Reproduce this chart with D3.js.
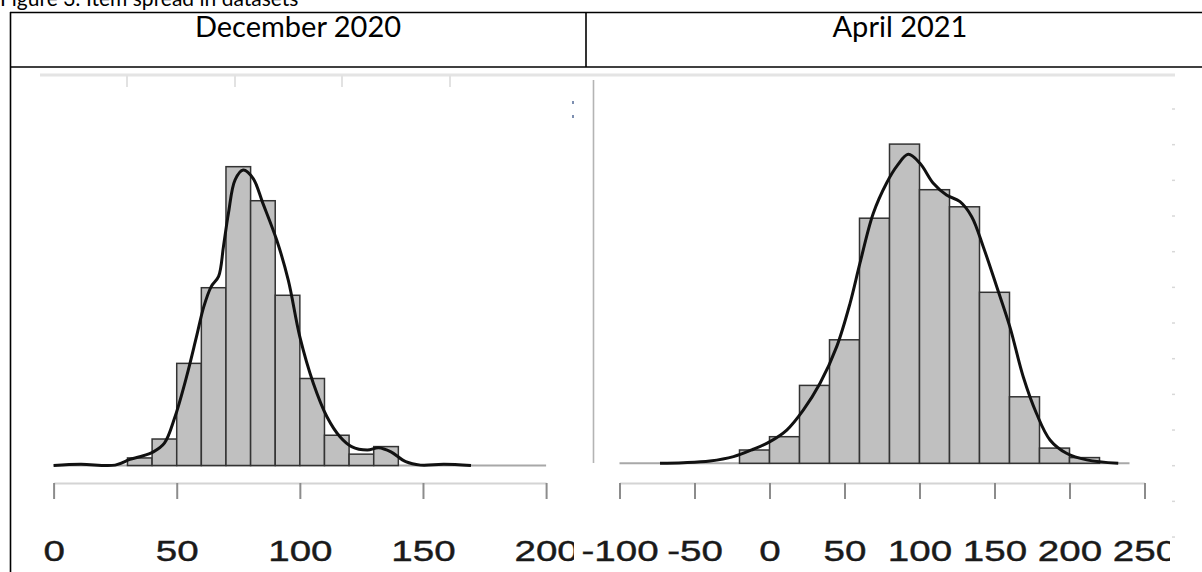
<!DOCTYPE html>
<html lang="en">
<head>
<meta charset="UTF-8">
<title>Figure 3: Item spread in datasets</title>
<script src="https://d3js.org/d3.v7.min.js"></script>
<style>
  body { margin: 0; background: #fff; overflow: hidden; }
  .doc-text { font-family: Lato, "Open Sans", sans-serif; font-size: 29px; fill: #000; }
  .caption { font-size: 21px; }
  .rule { stroke: #000; stroke-width: 1.6px; }
  .bar { fill: #c0c0c0; stroke: #333; stroke-width: 1.5px; }
  .density { fill: none; stroke: #111; stroke-width: 3px; stroke-linejoin: round; }
  .baseline { stroke: #a8a8a8; stroke-width: 2px; }
  .x-axis path.domain { stroke: #d4d4d4; stroke-width: 2px; }
  .x-axis .tick line { stroke: #8c8c8c; stroke-width: 2px; }
  .x-axis .tick text { font-family: "Liberation Sans", Arial, sans-serif; font-size: 29px; fill: #1a1a1a; stroke: #1a1a1a; stroke-width: 0.4px; }
  .frame { stroke: #e4e4e4; stroke-width: 3px; }
</style>
</head>
<body>
<svg id="figure" width="1202" height="572"></svg>
<script>
// column headers of the table
const periods = ["December 2020", "April 2021"];

// December 2020: histogram with bins of 10
const decEdges = [30, 40, 50, 60, 70, 80, 90, 100, 110, 120, 130, 140];
const decCounts = [2, 7, 27, 47, 79, 70, 45, 23, 8, 3, 5];
const decDensity = [
  [0, 0], [11, 0.3], [25, 0.1], [31, 1.6], [35, 2.3], [40.5, 3.6], [45, 5.9],
  [49.3, 12.9], [54, 23.5], [58, 34], [61, 42], [64, 47.3], [67, 50], [69, 58],
  [71, 66.7], [73.7, 75.5], [77, 78.1], [81, 75.9], [85, 69.3], [90.6, 59.6],
  [95.3, 49], [100, 34], [105.5, 21.7], [111, 12.9], [116.3, 7.6], [121, 5],
  [127.4, 4.1], [132, 4.7], [137, 3.6], [143, 1], [149, 0.1], [158.5, 0.3], [169.5, 0]
];
const decTicks = [0, 50, 100, 150, 200];

// April 2021: histogram with bins of 20
const aprEdges = [-20, 0, 20, 40, 60, 80, 100, 120, 140, 160, 180, 200, 220];
const aprCounts = [7, 14, 41, 65, 129, 168, 144, 135, 90, 35, 8, 3];
const aprDensity = [
  [-73, 0], [-57.5, 0.3], [-39.7, 1.2], [-24, 3.5], [-10.8, 7.4], [0.3, 11.4],
  [11.5, 17.5], [22.5, 28], [33.7, 42.1], [44.8, 61.4], [53.7, 84.2], [60.3, 105.3],
  [69.2, 131.6], [78, 147.4], [85, 156.5], [92.5, 162.6], [100.3, 157.9],
  [109.2, 147.4], [118, 141.2], [127, 137.7], [134.8, 129.8], [142.5, 114],
  [151.5, 92.9], [160.3, 71.7], [169.2, 45.4], [178, 26.2], [187, 12.3],
  [198, 5.3], [211.5, 1.8], [232.5, 0]
];
const aprTicks = [-100, -50, 0, 50, 100, 150, 200, 250];

const svg = d3.select("#figure");

// caption (partly scrolled off the top) and table rules
svg.append("text").attr("class", "doc-text caption")
  .attr("x", 0).attr("y", 6)
  .text("Figure 3: Item spread in datasets");

svg.append("line").attr("class", "rule").attr("x1", 10).attr("x2", 1202).attr("y1", 12.5).attr("y2", 12.5);
svg.append("line").attr("class", "rule").attr("x1", 10).attr("x2", 1202).attr("y1", 67).attr("y2", 67);
svg.append("line").attr("class", "rule").attr("x1", 10.5).attr("x2", 10.5).attr("y1", 12).attr("y2", 572);
svg.append("line").attr("class", "rule").attr("x1", 586).attr("x2", 586).attr("y1", 12).attr("y2", 67);

svg.selectAll("text.header")
  .data(periods)
  .enter().append("text")
  .attr("class", "doc-text header")
  .attr("x", (d, i) => i === 0 ? 298 : 900)
  .attr("y", 37)
  .attr("text-anchor", "middle")
  .text(d => d);

// leftovers of the pasted screenshot: light frame line, faint ticks
svg.append("line").attr("class", "frame").attr("x1", 40).attr("x2", 1175).attr("y1", 75).attr("y2", 75);
svg.selectAll("line.frame-tick")
  .data([127, 235, 342, 450])
  .enter().append("line")
  .attr("class", "frame-tick")
  .attr("x1", d => d).attr("x2", d => d)
  .attr("y1", 75).attr("y2", 87)
  .style("stroke", "#e2e2e2").style("stroke-width", 2);
svg.append("line")
  .attr("x1", 593.5).attr("x2", 593.5).attr("y1", 80).attr("y2", 463)
  .style("stroke", "#b4b4b4").style("stroke-width", 1.6);
svg.selectAll("rect.dot")
  .data([101, 115])
  .enter().append("rect")
  .attr("x", 572).attr("y", d => d).attr("width", 2).attr("height", 3)
  .style("fill", "#7d8fb0");
svg.selectAll("line.side-tick")
  .data(d3.range(109, 545, 35.67))
  .enter().append("line")
  .attr("x1", 1172).attr("x2", 1175)
  .attr("y1", d => d).attr("y2", d => d)
  .style("stroke", "#d8d8d8").style("stroke-width", 1.5);

const defs = svg.append("defs");
defs.append("clipPath").attr("id", "clip-dec")
  .append("rect").attr("x", 0).attr("y", 0).attr("width", 574).attr("height", 572);
defs.append("clipPath").attr("id", "clip-apr")
  .append("rect").attr("x", 574).attr("y", 0).attr("width", 596).attr("height", 572);

function drawPanel(opts) {
  const g = svg.append("g").attr("clip-path", `url(#${opts.clip})`);
  const x = opts.x, y = opts.y;

  g.append("line").attr("class", "baseline")
    .attr("x1", x(opts.baseExtent[0])).attr("x2", x(opts.baseExtent[1]))
    .attr("y1", y(0)).attr("y2", y(0));

  g.append("g").selectAll("rect")
    .data(opts.counts)
    .enter().append("rect")
    .attr("class", "bar")
    .attr("x", (d, i) => x(opts.edges[i]))
    .attr("width", (d, i) => x(opts.edges[i + 1]) - x(opts.edges[i]))
    .attr("y", d => y(d))
    .attr("height", d => y(0) - y(d));

  const line = d3.line()
    .x(d => x(d[0]))
    .y(d => y(d[1]))
    .curve(d3.curveCatmullRom.alpha(0.5));
  g.append("path").attr("class", "density").attr("d", line(opts.density));

  const axis = g.append("g")
    .attr("class", "x-axis")
    .attr("transform", "translate(0,483)")
    .call(d3.axisBottom(x).tickValues(opts.ticks).tickSize(16).tickSizeOuter(0).tickFormat(d => String(d)));
  axis.selectAll(".tick text")
    .attr("y", 78).attr("dy", 0)
    .attr("transform", "scale(1.33,1)");
}

drawPanel({
  clip: "clip-dec",
  x: d3.scaleLinear().domain([0, 200]).range([53.6, 546.1]),
  y: d3.scaleLinear().domain([0, 80]).range([465.5, 162.9]),
  edges: decEdges, counts: decCounts, density: decDensity, ticks: decTicks,
  baseExtent: [0, 200]
});

drawPanel({
  clip: "clip-apr",
  x: d3.scaleLinear().domain([-100, 250]).range([619.5, 1144.5]),
  y: d3.scaleLinear().domain([0, 170]).range([463.3, 140.3]),
  edges: aprEdges, counts: aprCounts, density: aprDensity, ticks: aprTicks,
  baseExtent: [-100, 240]
});
</script>
</body>
</html>
